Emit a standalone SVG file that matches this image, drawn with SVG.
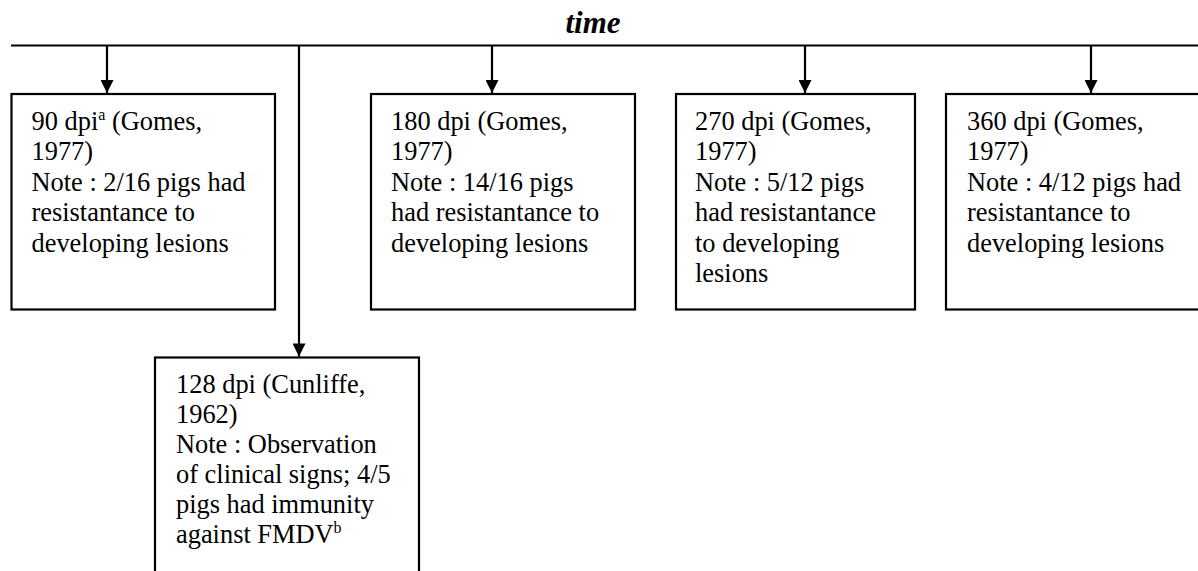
<svg xmlns="http://www.w3.org/2000/svg" width="1198" height="571" viewBox="0 0 1198 571">
<defs>
<style>
.box{fill:#fff;stroke:#000;stroke-width:2.2}
.t{font-family:"Liberation Serif","Times New Roman",serif;font-size:26.4px;fill:#000}
.sup{font-size:16px}
.line{stroke:#000;stroke-width:2.2;fill:none}
.title{font-family:"Liberation Serif","Times New Roman",serif;font-size:31px;font-weight:bold;font-style:italic;fill:#000}
</style>
<marker id="ah" markerWidth="15" markerHeight="13" refX="15" refY="7.5" orient="auto" markerUnits="userSpaceOnUse" viewBox="0 0 15 15">
<path d="M0,0 L15,7.5 L0,15 Z" fill="#000"/>
</marker>
</defs>
<rect width="1198" height="571" fill="#fff"/>
<text class="title" x="593" y="33" text-anchor="middle">time</text>
<g id="connectors">
<line class="line" x1="11" y1="45.5" x2="1198" y2="45.5" stroke-width="2.6"/>
<line class="line" x1="107" y1="45.5" x2="107" y2="93" marker-end="url(#ah)"/>
<line class="line" x1="299" y1="45.5" x2="299" y2="356.5" marker-end="url(#ah)"/>
<line class="line" x1="492" y1="45.5" x2="492" y2="93" marker-end="url(#ah)"/>
<line class="line" x1="805" y1="45.5" x2="805" y2="93" marker-end="url(#ah)"/>
<line class="line" x1="1091" y1="45.5" x2="1091" y2="93" marker-end="url(#ah)"/>
</g>
<g id="n90">
<rect class="box" x="11.5" y="94" width="263.5" height="215.5"/>
<text class="t" x="31.5" y="130"><tspan x="31.5">90 dpi<tspan class="sup" dy="-10">a</tspan><tspan dy="10"> (Gomes,</tspan></tspan><tspan x="31.5" dy="30.4">1977)</tspan><tspan x="31.5" dy="30.4">Note : 2/16 pigs had</tspan><tspan x="31.5" dy="30.4">resistantance to</tspan><tspan x="31.5" dy="30.4">developing lesions</tspan></text>
</g>
<g id="n180">
<rect class="box" x="371" y="94" width="264" height="215.5"/>
<text class="t" x="391" y="130"><tspan x="391">180 dpi (Gomes,</tspan><tspan x="391" dy="30.4">1977)</tspan><tspan x="391" dy="30.4">Note : 14/16 pigs</tspan><tspan x="391" dy="30.4">had resistantance to</tspan><tspan x="391" dy="30.4">developing lesions</tspan></text>
</g>
<g id="n270">
<rect class="box" x="676" y="94" width="239" height="215.5"/>
<text class="t" x="695" y="130"><tspan x="695">270 dpi (Gomes,</tspan><tspan x="695" dy="30.4">1977)</tspan><tspan x="695" dy="30.4">Note : 5/12 pigs</tspan><tspan x="695" dy="30.4">had resistantance</tspan><tspan x="695" dy="30.4">to developing</tspan><tspan x="695" dy="30.4">lesions</tspan></text>
</g>
<g id="n360">
<rect class="box" x="946" y="94" width="280" height="215.5"/>
<text class="t" x="967" y="130"><tspan x="967">360 dpi (Gomes,</tspan><tspan x="967" dy="30.4">1977)</tspan><tspan x="967" dy="30.4">Note : 4/12 pigs had</tspan><tspan x="967" dy="30.4">resistantance to</tspan><tspan x="967" dy="30.4">developing lesions</tspan></text>
</g>
<g id="n128">
<rect class="box" x="155" y="357.5" width="264" height="240"/>
<text class="t" x="176" y="393"><tspan x="176">128 dpi (Cunliffe,</tspan><tspan x="176" dy="30">1962)</tspan><tspan x="176" dy="30">Note : Observation</tspan><tspan x="176" dy="30">of clinical signs; 4/5</tspan><tspan x="176" dy="30">pigs had immunity</tspan><tspan x="176" dy="30">against FMDV<tspan class="sup" dy="-10">b</tspan></tspan></text>
</g>
</svg>
